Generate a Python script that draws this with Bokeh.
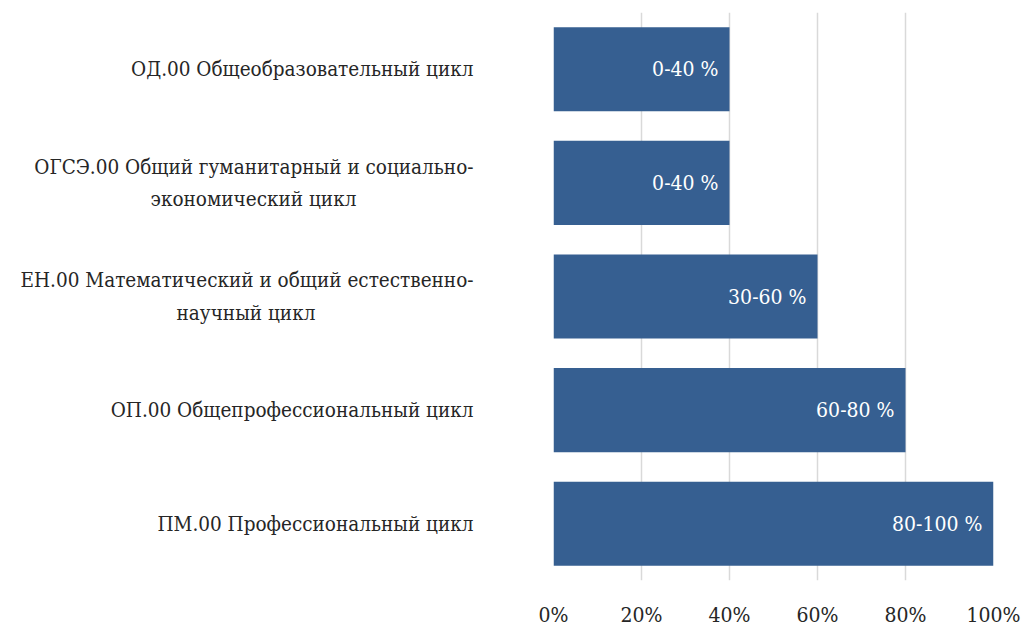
from bokeh.plotting import figure
from bokeh.models import ColumnDataSource, FixedTicker, NumeralTickFormatter, Range1d, FactorRange
from bokeh.core.properties import value
from bokeh.embed import file_html
from bokeh.resources import INLINE

categories = [
    "ОД.00 Общеобразовательный цикл",
    "ОГСЭ.00 Общий гуманитарный и социально-\nэкономический цикл",
    "ЕН.00 Математический и общий естественно-\nнаучный цикл",
    "ОП.00 Общепрофессиональный цикл",
    "ПМ.00 Профессиональный цикл",
]
values = [0.40, 0.40, 0.60, 0.80, 1.00]
bar_labels = ["0-40 %", "0-40 %", "30-60 %", "60-80 %", "80-100 %"]
x_ticks = [0, 0.2, 0.4, 0.6, 0.8, 1.0]

# second lines of wrapped labels are centred under the first line (NBSP padding)
second_line_pad = {1: 20, 2: 27}

SERIF_C = "DejaVu Serif Condensed"

factors = [c + "\u00a0" * second_line_pad.get(i, 0) for i, c in enumerate(categories)]

src = ColumnDataSource(dict(cat=factors, val=values, lab=bar_labels))

p = figure(
    width=1025, height=629,
    y_range=FactorRange(*list(reversed(factors))),
    x_range=Range1d(0, 1.0),
    output_backend="svg", toolbar_location=None,
    min_border_left=553, min_border_right=32, min_border_top=12, min_border_bottom=49,
)
p.outline_line_color = None

p.hbar(y="cat", right="val", left=0, height=0.74, source=src,
       fill_color="#365f91", line_color=None)

p.text(x="val", y="cat", text="lab", source=src, x_offset=-11,
       text_align="right", text_baseline="middle", text_color="white",
       text_font=value(SERIF_C), text_font_size="21px")

p.xgrid.ticker = FixedTicker(ticks=x_ticks)
p.xgrid.grid_line_color = "#d9d9d9"
p.xgrid.grid_line_width = 1.5
p.ygrid.grid_line_color = None

xa = p.xaxis[0]
xa.ticker = FixedTicker(ticks=x_ticks)
xa.formatter = NumeralTickFormatter(format="0%")
xa.axis_line_color = None
xa.major_tick_line_color = None
xa.minor_tick_line_color = None
xa.major_tick_out = 0
xa.major_tick_in = 0
xa.major_label_text_font = SERIF_C
xa.major_label_text_font_size = "21px"
xa.major_label_text_color = "#262626"
xa.major_label_standoff = 22

ya = p.yaxis[0]
ya.axis_line_color = None
ya.major_tick_line_color = None
ya.minor_tick_line_color = None
ya.major_tick_out = 0
ya.major_tick_in = 0
ya.major_label_text_font = SERIF_C
ya.major_label_text_font_size = "20.5px"
ya.major_label_text_color = "#262626"
ya.major_label_text_line_height = 1.35
ya.major_label_standoff = 80

open("out.html", "w").write(file_html(p, INLINE))
